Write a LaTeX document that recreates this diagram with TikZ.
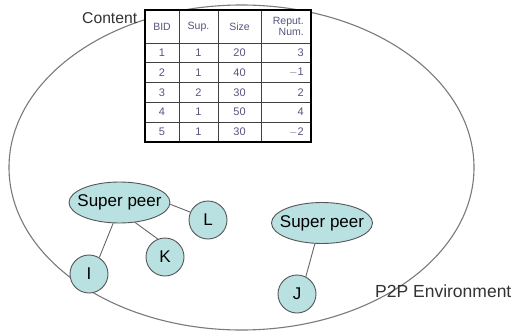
\documentclass[tikz,border=0pt]{standalone}
\usepackage{fontspec}
\setmainfont{Liberation Sans}
\usetikzlibrary{shapes.geometric}
\definecolor{peerfill}{HTML}{B9E1E1}
\definecolor{peerdraw}{HTML}{555555}
\definecolor{tabtext}{HTML}{55557F}
\definecolor{envline}{HTML}{7A7A7A}
\definecolor{labeltext}{HTML}{333333}
\begin{document}
\begin{tikzpicture}[x=1pt,y=-1pt,
  peer/.style={ellipse, draw=peerdraw, fill=peerfill, line width=0.9pt,
    minimum width=101pt, minimum height=41pt, inner sep=0pt,
    font=\fontsize{17}{17}\selectfont},
  leaf/.style={circle, draw=peerdraw, fill=peerfill, line width=0.9pt,
    minimum size=38pt, inner sep=0pt, font=\fontsize{17}{17}\selectfont},
  link/.style={draw=peerdraw!90, line width=0.9pt},
  cell/.style={inner sep=0pt, text=tabtext, font=\fontsize{11}{11}\selectfont},
  headcell/.style={inner sep=0pt, text=tabtext, font=\fontsize{10.5}{11.5}\selectfont},
  biglabel/.style={inner sep=0pt, text=labeltext, anchor=base west}
]
\useasboundingbox (0,0) rectangle (526,331);
\fill[white] (0,0) rectangle (526,331);

% environment ellipse
\draw[envline, line width=1.1pt] (241.5,167.5) ellipse [x radius=232.5, y radius=162.5];

% table
\fill[white] (145,10) rectangle (311,142);
\draw[black!75, line width=0.8pt]
  (179,10) -- (179,142) (218,10) -- (218,142) (261,10) -- (261,142)
  (145,43) -- (311,43) (145,62.8) -- (311,62.8) (145,82.5) -- (311,82.5)
  (145,102.2) -- (311,102.2) (145,122) -- (311,122);
\draw[black, line width=2.4pt] (145,10) rectangle (311,142);

\node[headcell] (hbid) at (162,26.5) {BID};
\node[headcell] (hsup) at (198.5,26.5) {Sup.};
\node[headcell] (hsize) at (239.5,26.5) {Size};
\node[headcell, align=right, anchor=east] (hrep) at (304,26.5) {Reput.\\Num.};

\foreach \r/\y/\b/\s/\z/\p in {1/52.9/1/1/20/3, 2/72.6/2/1/40/$-$1, 3/92.3/3/2/30/2, 4/112.1/4/1/50/4, 5/132/5/1/30/$-$2}{
  \node[cell] (b\r) at (162,\y) {\b};
  \node[cell] (s\r) at (198.5,\y) {\s};
  \node[cell] (z\r) at (239.5,\y) {\z};
  \node[cell, anchor=east] (p\r) at (304,\y) {\p};
}

% labels
\node[biglabel, font=\fontsize{15.7}{16}\selectfont] (content) at (82,24) {Content};
\node[biglabel, font=\fontsize{17.5}{18}\selectfont] (env) at (375,297) {P2P Environment};

% peers
\node[peer] (sp1) at (119.5,202.5) {\makebox[0pt]{Super peer}};
\node[peer] (sp2) at (322,223) {\makebox[0pt]{Super peer}};
\node[leaf] (L) at (208,220) {L};
\node[leaf] (K) at (165,257) {K};
\node[leaf] (I) at (89,274) {I};
\node[leaf] (J) at (297,294) {J};

\draw[link] (sp1.-2) -- (L.156);
\draw[link] (sp1.-52) -- (K.112);
\draw[link] (sp1.-107) -- (I.58);
\draw[link] (sp2.-109) -- (J.63);
\end{tikzpicture}
\end{document}
